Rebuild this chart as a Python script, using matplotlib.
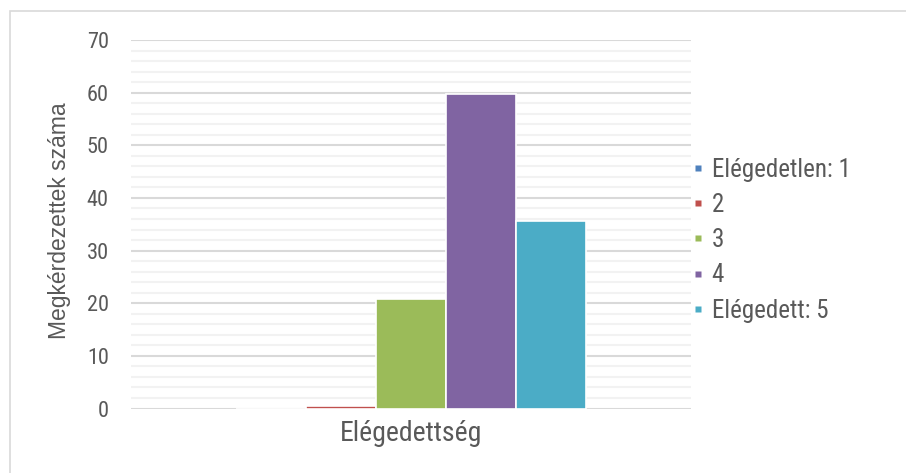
import matplotlib
matplotlib.use("Agg")
import matplotlib.pyplot as plt
from matplotlib import font_manager
from matplotlib.patches import Rectangle
from matplotlib.lines import Line2D
import numpy as np

# data
category = ["Elégedettség"]
series_names = ["Elégedetlen: 1", "2", "3", "4", "Elégedett: 5"]
series_values = [0, 0.5, 20.8, 59.8, 35.7]
series_colors = ["#4F81BD", "#C0504D", "#9BBB59", "#8064A2", "#4BACC6"]
y_ticks = [0, 10, 20, 30, 40, 50, 60, 70]

# narrow face for the ticks / legend, if one is around
fonts = font_manager.fontManager.ttflist
names = {f.name for f in fonts}
narrow, stretch = "DejaVu Sans", "normal"
if "Liberation Sans Narrow" in names:
    narrow = "Liberation Sans Narrow"
elif "Roboto Condensed" in names:
    narrow = "Roboto Condensed"
elif any(f.name == "DejaVu Sans" and "ondensed" in f.fname for f in fonts):
    stretch = "condensed"
txt = "#595959"

W, H = 906, 473
fig = plt.figure(figsize=(W / 100, H / 100), dpi=100)
ax = fig.add_axes([131 / W, 1 - 408.5 / H, 560 / W, 368.5 / H])

# outer chart border (only top and left visible in the crop)
fig.patches.append(Rectangle((10 / W, -0.05), 1.0, 1 - 11 / H + 0.05,
                             transform=fig.transFigure, fill=False,
                             edgecolor="#d9d9d9", lw=1.2, zorder=0))

x = np.arange(len(category))
bw = 0.125
for i, (nm, v, c) in enumerate(zip(series_names, series_values, series_colors)):
    off = (i - 2) * bw
    ax.bar(x + off, [v], width=bw, color=c, edgecolor="white", linewidth=1.2,
           label=nm, zorder=3)

ax.set_xlim(-0.5, 0.5)
ax.set_ylim(0, 70)
ax.set_yticks(y_ticks)
ax.set_yticks(np.arange(0, 71, 2), minor=True)
ax.set_xticks(x)
ax.set_xticklabels(category, fontfamily=narrow, fontstretch=stretch,
                   fontsize=20, color=txt)
ax.tick_params(axis="both", which="both", length=0)
ax.tick_params(axis="y", labelsize=16, labelcolor=txt, pad=16)
ax.tick_params(axis="x", pad=8)
for lab in ax.get_yticklabels():
    lab.set_fontfamily(narrow)
    lab.set_fontstretch(stretch)
ax.grid(axis="y", which="minor", color="#f2f2f2", lw=1.5, zorder=1)
ax.grid(axis="y", which="major", color="#d9d9d9", lw=1.5, zorder=2)
for s in ax.spines.values():
    s.set_visible(False)

ax.set_ylabel("Megkérdezettek száma", fontsize=16.5, color=txt,
              fontfamily="Liberation Sans")
ax.yaxis.set_label_coords(-0.107, 0.51)

# small square markers like the Excel legend keys
handles = [Line2D([], [], ls="none", marker="s", markersize=5,
                  markerfacecolor=c, markeredgecolor="none") for c in series_colors]
leg = fig.legend(handles, series_names, loc="center left",
                 bbox_to_anchor=(693 / W, 1 - 240 / H), frameon=False,
                 prop={"family": narrow, "size": 18, "stretch": stretch},
                 borderpad=0, borderaxespad=0,
                 handlelength=0.4, handletextpad=0.35,
                 labelspacing=0.45)
for t in leg.get_texts():
    t.set_color(txt)

fig.savefig("out.png", dpi=100)
